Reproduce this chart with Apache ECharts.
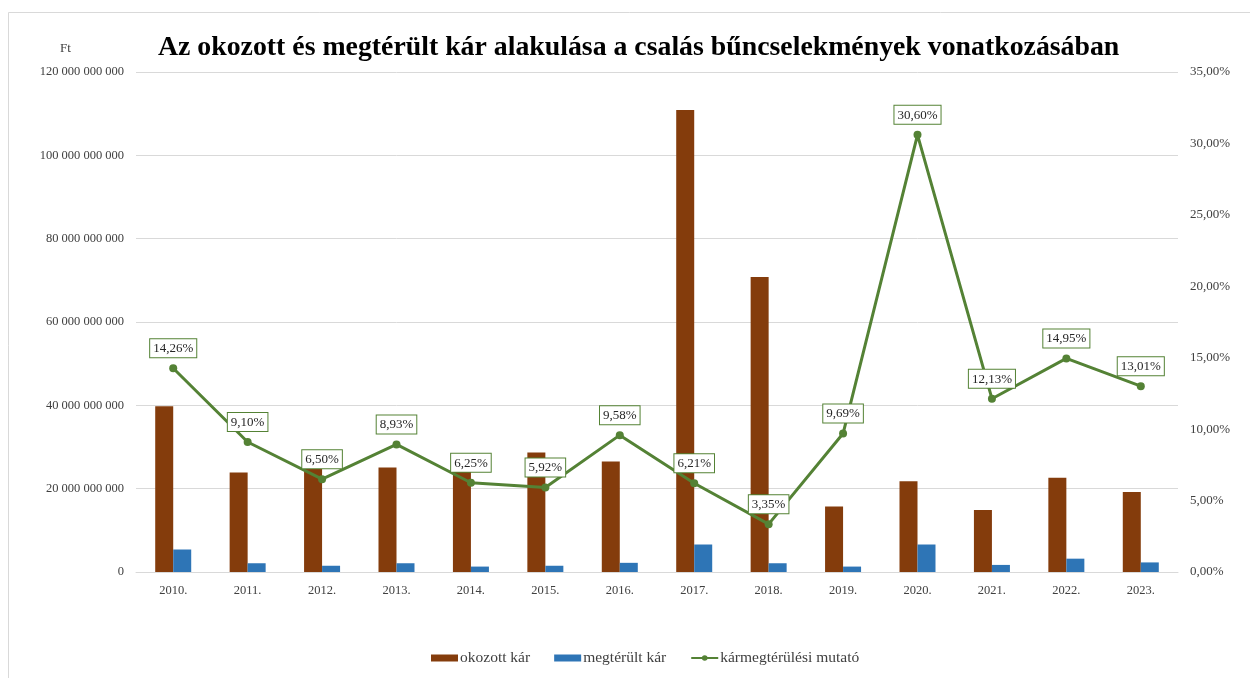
<!DOCTYPE html>
<html>
<head>
<meta charset="utf-8">
<script src="https://cdn.jsdelivr.net/npm/echarts@6/dist/echarts.min.js"></script>
<style>
  html, body { margin: 0; padding: 0; background: #fff; }
  #chart { width: 1250px; height: 678px; }
</style>
</head>
<body>
<div id="chart"></div>
<script>
// évek
const years = ['2010.', '2011.', '2012.', '2013.', '2014.', '2015.', '2016.', '2017.', '2018.', '2019.', '2020.', '2021.', '2022.', '2023.']
// okozott kár, Ft
const okozott = [39.8e9, 23.9e9, 27.4e9, 25.1e9, 24.5e9, 28.7e9, 26.5e9, 110.9e9, 70.8e9, 15.7e9, 21.8e9, 14.9e9, 22.6e9, 19.2e9]
// megtérült kár, Ft
const megterult = [5.4e9, 2.1e9, 1.5e9, 2.1e9, 1.3e9, 1.5e9, 2.2e9, 6.6e9, 2.1e9, 1.3e9, 6.6e9, 1.7e9, 3.2e9, 2.3e9]
// kármegtérülési mutató, %
const mutato = [14.26, 9.10, 6.50, 8.93, 6.25, 5.92, 9.58, 6.21, 3.35, 9.69, 30.60, 12.13, 14.95, 13.01]

const serif = 'Liberation Serif'
const ftFormat = v => String(Math.round(v)).replace(/\B(?=(\d{3})+(?!\d))/g, ' ')
const pctFormat = v => v.toFixed(2).replace('.', ',') + '%'

const option = {
    animation: false,
    backgroundColor: '#fff',
    textStyle: { fontFamily: serif },
    // keret a diagram körül
    graphic: [
        {
            type: 'rect',
            silent: true,
            shape: { x: 8.5, y: 12.5, width: 1300, height: 700 },
            style: { fill: 'none', stroke: '#d9d9d9', lineWidth: 1 }
        }
    ],
    title: [
        {
            left: 153,
            top: 29,
            text: 'Az okozott és megtérült kár alakulása a csalás bűncselekmények vonatkozásában',
            textStyle: { fontFamily: serif, fontSize: 27.8, fontWeight: 'bold', color: '#000' }
        },
        {
            left: 55,
            top: 37,
            text: 'Ft',
            textStyle: { fontFamily: serif, fontSize: 13, fontWeight: 'normal', color: '#404040' }
        }
    ],
    legend: {
        bottom: 7,
        left: 426,
        itemWidth: 27,
        itemHeight: 7,
        itemGap: 24,
        textStyle: { fontFamily: serif, fontSize: 15.5, color: '#404040', padding: [0, 0, 0, -3] },
        data: [
            { name: 'okozott kár', icon: 'rect' },
            { name: 'megtérült kár', icon: 'rect' },
            { name: 'kármegtérülési mutató' }
        ]
    },
    grid: {
        left: 136,
        right: 72,
        top: 72,
        bottom: 106
    },
    xAxis: {
        type: 'category',
        data: years,
        axisLine: { lineStyle: { color: '#d9d9d9', width: 1 } },
        axisTick: { show: false },
        axisLabel: { fontFamily: serif, fontSize: 12.5, color: '#404040', margin: 12 }
    },
    yAxis: [
        {
            type: 'value',
            min: 0,
            max: 120e9,
            interval: 20e9,
            axisLine: { show: false },
            axisTick: { show: false },
            splitLine: { lineStyle: { color: '#d9d9d9' } },
            axisLabel: { fontFamily: serif, fontSize: 12.5, color: '#404040', margin: 12, formatter: ftFormat }
        },
        {
            type: 'value',
            min: 0,
            max: 35,
            interval: 5,
            axisLine: { show: false },
            axisTick: { show: false },
            splitLine: { show: false },
            axisLabel: { fontFamily: serif, fontSize: 13, color: '#404040', margin: 12, formatter: pctFormat }
        }
    ],
    series: [
        {
            name: 'okozott kár',
            type: 'bar',
            barWidth: 18,
            barGap: '0%',
            itemStyle: { color: '#843C0C' },
            data: okozott
        },
        {
            name: 'megtérült kár',
            type: 'bar',
            barWidth: 18,
            barGap: '0%',
            itemStyle: { color: '#2E75B6' },
            data: megterult
        },
        {
            name: 'kármegtérülési mutató',
            type: 'line',
            yAxisIndex: 1,
            symbol: 'circle',
            symbolSize: 8,
            lineStyle: { color: '#548235', width: 3 },
            itemStyle: { color: '#548235' },
            label: {
                show: true,
                position: 'top',
                distance: 7,
                formatter: p => pctFormat(p.value),
                fontFamily: serif,
                fontSize: 13,
                color: '#262626',
                backgroundColor: '#fff',
                borderColor: '#548235',
                borderWidth: 1,
                padding: [3, 3, 2, 3]
            },
            z: 5,
            data: mutato
        }
    ]
}

const myChart = echarts.init(document.getElementById('chart'))
myChart.setOption(option, true)
</script>
</body>
</html>
